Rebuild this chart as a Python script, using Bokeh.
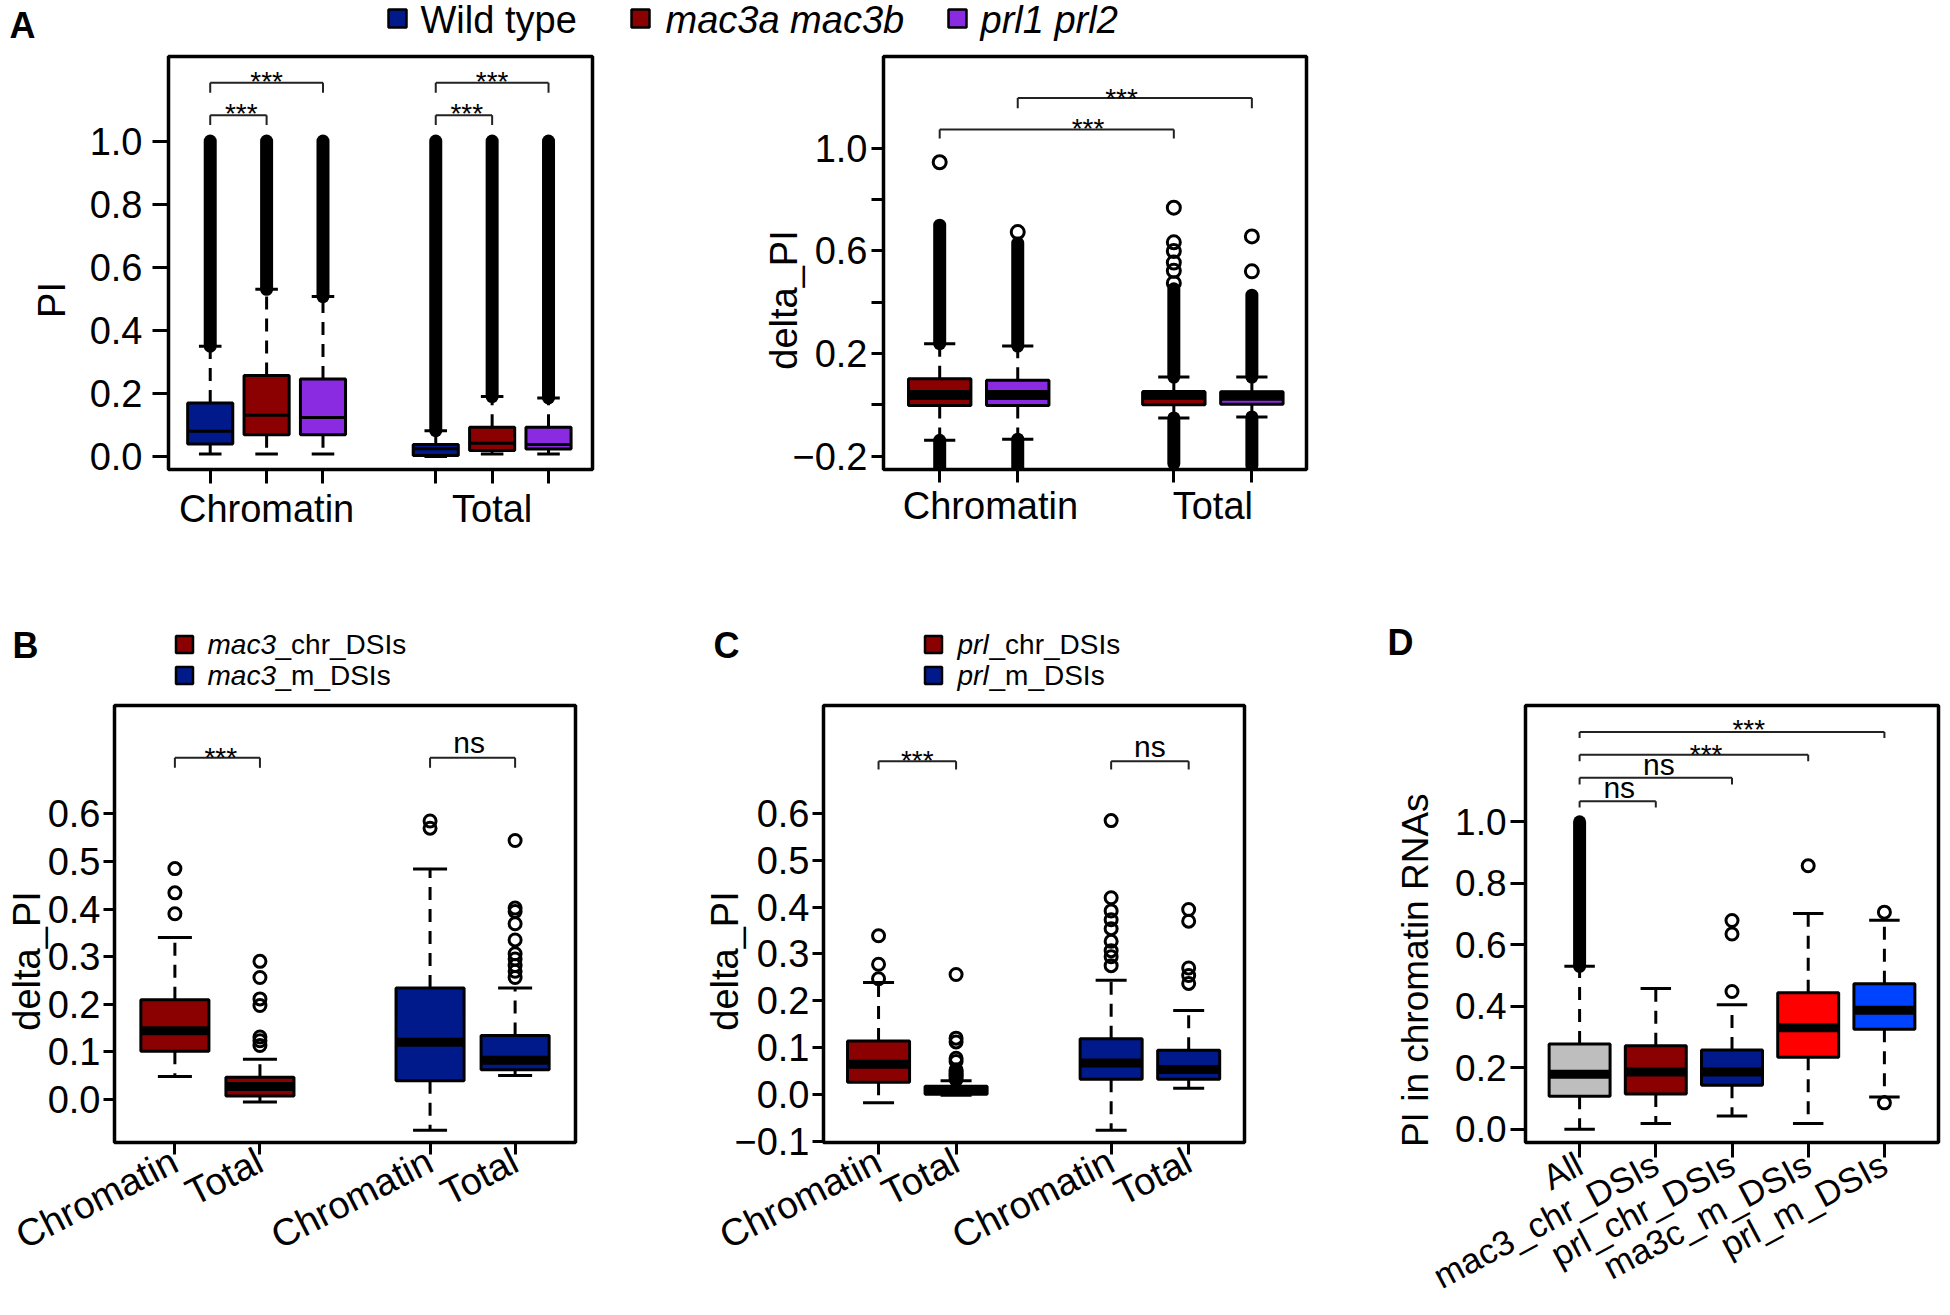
import math
from bokeh.plotting import figure
from bokeh.models import LinearAxis, FixedTicker, Range1d
from bokeh.layouts import column, row
from bokeh.core.properties import value
from bokeh.embed import file_html
from bokeh.resources import INLINE

FONT = "Liberation Sans"
NAVY = "#001A8C"
DARKRED = "#8B0000"
VIOLET = "#8A2BE2"
GREY = "#BEBEBE"
RED = "#FF0000"
BLUE = "#0043FF"
NB = "\u00a0"

# ---------------- Panel A (left): PI ----------------
a1_pos = [1, 2, 3, 5, 6, 7]
a1_colors = [NAVY, DARKRED, VIOLET, NAVY, DARKRED, VIOLET]
a1_q1 = [0.040, 0.069, 0.069, 0.003, 0.019, 0.024]
a1_med = [0.080, 0.131, 0.124, 0.025, 0.042, 0.038]
a1_q3 = [0.170, 0.257, 0.246, 0.038, 0.093, 0.093]
a1_wlo = [0.008, 0.008, 0.008, 0.000, 0.008, 0.008]
a1_whi = [0.350, 0.530, 0.507, 0.082, 0.190, 0.186]
a1_dense_x = [1, 2, 3, 5, 6, 7]
a1_dense_lo = [0.350, 0.530, 0.507, 0.082, 0.190, 0.186]
a1_dense_hi = [1.0, 1.0, 1.0, 1.0, 1.0, 1.0]
a1_xlabels = ["", "Chromatin", "", "", "Total", ""]
a1_yticks = [0.0, 0.2, 0.4, 0.6, 0.8, 1.0]
a1_ylabels = ["0.0", "0.2", "0.4", "0.6", "0.8", "1.0"]
a1_br_x0 = [1, 1, 5, 5]
a1_br_x1 = [3, 2, 7, 6]
a1_br_y = [1.185, 1.082, 1.185, 1.082]
a1_br_drop = [0.032, 0.031, 0.032, 0.031]
a1_br_text = ["***", "***", "***", "***"]
a1_br_tx = [2.0, 1.55, 6.0, 5.55]
a1_br_ty = [1.208, 1.106, 1.208, 1.106]

# ---------------- Panel A (right): delta_PI ----------------
a2_pos = [1, 2, 4, 5]
a2_colors = [DARKRED, VIOLET, DARKRED, VIOLET]
a2_q1 = [-0.003, -0.003, 0.000, 0.002]
a2_med = [0.038, 0.038, 0.038, 0.035]
a2_q3 = [0.102, 0.096, 0.051, 0.051]
a2_wlo = [-0.138, -0.134, -0.051, -0.047]
a2_whi = [0.238, 0.229, 0.108, 0.108]
a2_dense_x = [1, 2, 4, 5, 1, 2, 4, 5]
a2_dense_lo = [0.238, 0.229, 0.108, 0.108, -0.300, -0.300, -0.229, -0.236]
a2_dense_hi = [0.700, 0.630, 0.452, 0.427, -0.138, -0.134, -0.051, -0.047]
a2_out_x = [1, 2, 4, 4, 4, 4, 4, 4, 5, 5]
a2_out_y = [0.945, 0.673, 0.474, 0.522, 0.554, 0.599, 0.633, 0.768, 0.520, 0.656]
a2_xlab_pos = [1.65, 4.5]
a2_xlabels = ["Chromatin", "Total"]
a2_yticks = [-0.2, 0.0, 0.2, 0.4, 0.6, 0.8, 1.0]
a2_ylabels = ["\u22120.2", "", "0.2", "", "0.6", "", "1.0"]
a2_br_x0 = [1, 2]
a2_br_x1 = [4, 5]
a2_br_y = [1.073, 1.195]
a2_br_drop = [0.035, 0.040]
a2_br_text = ["***", "***"]
a2_br_tx = [2.9, 3.33]
a2_br_ty = [1.099, 1.217]

# ---------------- Panel B ----------------
b_pos = [1, 2, 4, 5]
b_colors = [DARKRED, DARKRED, NAVY, NAVY]
b_q1 = [0.101, 0.007, 0.039, 0.062]
b_med = [0.144, 0.027, 0.120, 0.082]
b_q3 = [0.209, 0.046, 0.234, 0.134]
b_wlo = [0.048, -0.006, -0.065, 0.050]
b_whi = [0.340, 0.084, 0.484, 0.234]
b_out_x = [1, 1, 1, 2, 2, 2, 2, 2, 2, 2, 4, 4, 5, 5, 5, 5, 5, 5, 5, 5, 5, 5]
b_out_y = [0.390, 0.434, 0.485,
           0.113, 0.123, 0.131, 0.197, 0.211, 0.256, 0.290,
           0.570, 0.585,
           0.256, 0.269, 0.281, 0.295, 0.306, 0.335, 0.369, 0.395, 0.402, 0.544]
b_xlabels = ["Chromatin", "Total", "Chromatin", "Total"]
b_yticks = [0.0, 0.1, 0.2, 0.3, 0.4, 0.5, 0.6]
b_ylabels = ["0.0", "0.1", "0.2", "0.3", "0.4", "0.5", "0.6"]
b_br_x0 = [1, 4]
b_br_x1 = [2, 5]
b_br_y = [0.718, 0.718]
b_br_drop = [0.021, 0.021]
b_br_text = ["***", "ns"]
b_br_tx = [1.54, 4.46]
b_br_ty = [0.732, 0.743]

# ---------------- Panel C ----------------
c_pos = [1, 2, 4, 5]
c_colors = [DARKRED, DARKRED, NAVY, NAVY]
c_q1 = [0.026, 0.000, 0.032, 0.032]
c_med = [0.064, 0.0085, 0.067, 0.053]
c_q3 = [0.114, 0.017, 0.119, 0.094]
c_wlo = [-0.018, -0.002, -0.077, 0.013]
c_whi = [0.239, 0.029, 0.244, 0.179]
c_out_x = [1, 1, 1, 2, 2, 2, 2, 2, 2, 2, 2, 2, 2, 2,
           4, 4, 4, 4, 4, 4, 4, 4, 4, 5, 5, 5, 5, 5]
c_out_y = [0.247, 0.278, 0.339,
           0.032, 0.036, 0.040, 0.044, 0.048, 0.052, 0.070, 0.077, 0.112, 0.120, 0.256,
           0.275, 0.294, 0.307, 0.327, 0.354, 0.373, 0.392, 0.420, 0.585,
           0.237, 0.254, 0.270, 0.370, 0.395]
c_xlabels = ["Chromatin", "Total", "Chromatin", "Total"]
c_yticks = [-0.1, 0.0, 0.1, 0.2, 0.3, 0.4, 0.5, 0.6]
c_ylabels = ["\u22120.1", "0.0", "0.1", "0.2", "0.3", "0.4", "0.5", "0.6"]
c_br_x0 = [1, 4]
c_br_x1 = [2, 5]
c_br_y = [0.712, 0.712]
c_br_drop = [0.018, 0.018]
c_br_text = ["***", "ns"]
c_br_tx = [1.5, 4.5]
c_br_ty = [0.727, 0.736]

# ---------------- Panel D ----------------
d_pos = [1, 2, 3, 4, 5]
d_colors = [GREY, DARKRED, NAVY, RED, BLUE]
d_q1 = [0.107, 0.115, 0.143, 0.234, 0.325]
d_med = [0.179, 0.186, 0.186, 0.330, 0.387]
d_q3 = [0.277, 0.272, 0.258, 0.444, 0.473]
d_wlo = [0.000, 0.019, 0.043, 0.019, 0.105]
d_whi = [0.530, 0.458, 0.405, 0.702, 0.680]
d_dense_x = [1]
d_dense_lo = [0.530]
d_dense_hi = [1.0]
d_out_x = [3, 3, 3, 4, 5, 5]
d_out_y = [0.448, 0.635, 0.679, 0.857, 0.086, 0.706]
d_xlabels = ["All", "mac3_chr_DSIs", "prl_chr_DSIs", "ma3c_m_DSIs", "prl_m_DSIs"]
d_yticks = [0.0, 0.2, 0.4, 0.6, 0.8, 1.0]
d_ylabels = ["0.0", "0.2", "0.4", "0.6", "0.8", "1.0"]
d_br_x0 = [1, 1, 1, 1]
d_br_x1 = [2, 3, 4, 5]
d_br_y = [1.067, 1.143, 1.218, 1.292]
d_br_drop = [0.021, 0.022, 0.021, 0.020]
d_br_text = ["ns", "ns", "***", "***"]
d_br_tx = [1.52, 2.04, 2.66, 3.22]
d_br_ty = [1.100, 1.175, 1.239, 1.318]

# ---------------- Legends ----------------
legA_labels = ["Wild type", "mac3a mac3b", "prl1 prl2"]
legA_styles = ["normal", "italic", "italic"]
legA_colors = [NAVY, DARKRED, VIOLET]
legB_ital = ["mac3", "mac3"]
legB_rest = ["_chr_DSIs", "_m_DSIs"]
legC_ital = ["prl", "prl"]
legC_rest = ["_chr_DSIs", "_m_DSIs"]
legBC_colors = [DARKRED, NAVY]


def panel(width, height, bl, br, bt, bb, xr, yr):
    p = figure(width=width, height=height, x_range=Range1d(*xr), y_range=Range1d(*yr),
               x_axis_type=None, y_axis_type=None, toolbar_location=None,
               output_backend="svg", min_border_left=bl, min_border_right=br,
               min_border_top=bt, min_border_bottom=bb)
    p.outline_line_color = "black"
    p.outline_line_width = 3.5
    p.background_fill_color = "white"
    p.border_fill_color = "white"
    return p


def yaxis(p, ticks, labels, title, tick_out, lab_st, title_st, fs="38px"):
    ax = LinearAxis(ticker=FixedTicker(ticks=ticks, minor_ticks=[]),
                    major_label_overrides={t: l for t, l in zip(ticks, labels)},
                    axis_label=title, axis_line_color=None,
                    major_tick_out=tick_out, major_tick_in=0, major_tick_line_width=3,
                    minor_tick_out=0, minor_tick_in=0,
                    major_label_standoff=lab_st, axis_label_standoff=title_st,
                    major_label_text_font=FONT, major_label_text_font_size=fs,
                    major_label_text_color="black",
                    axis_label_text_font=FONT, axis_label_text_font_size=fs,
                    axis_label_text_font_style="normal", axis_label_text_color="black")
    p.add_layout(ax, "left")


def xaxis(p, ticks, labels, tick_out, lab_st, fs="38px", angle="horizontal", tick_w=3):
    ax = LinearAxis(ticker=FixedTicker(ticks=ticks, minor_ticks=[]),
                    major_label_overrides={t: l for t, l in zip(ticks, labels)},
                    axis_line_color=None,
                    major_tick_out=tick_out, major_tick_in=0, major_tick_line_width=tick_w,
                    minor_tick_out=0, minor_tick_in=0,
                    major_label_standoff=lab_st,
                    major_label_text_font=FONT, major_label_text_font_size=fs,
                    major_label_text_color="black",
                    major_label_orientation=angle)
    p.add_layout(ax, "below")
    return ax


def boxes(p, pos, q1, med, q3, wlo, whi, colors, med_lw):
    cap = 0.2
    half = 0.4
    p.segment(x0=pos, y0=q3, x1=pos, y1=whi, line_color="black", line_width=3, line_dash="13 9")
    p.segment(x0=pos, y0=q1, x1=pos, y1=wlo, line_color="black", line_width=3, line_dash="13 9")
    p.segment(x0=[x - cap for x in pos], y0=whi, x1=[x + cap for x in pos], y1=whi,
              line_color="black", line_width=3)
    p.segment(x0=[x - cap for x in pos], y0=wlo, x1=[x + cap for x in pos], y1=wlo,
              line_color="black", line_width=3)
    p.vbar(x=pos, width=0.8, bottom=q1, top=q3, fill_color=colors, line_color="black",
           line_width=3)
    p.segment(x0=[x - half for x in pos], y0=med, x1=[x + half for x in pos], y1=med,
              line_color="black", line_width=med_lw, line_cap="butt")


def dense(p, xs, lo, hi, w=13):
    p.segment(x0=xs, y0=lo, x1=xs, y1=hi, line_color="black", line_width=w, line_cap="round")


def outliers(p, xs, ys, size=12):
    p.scatter(x=xs, y=ys, marker="circle", size=size, fill_color=None,
              line_color="black", line_width=3)


def brackets(p, x0, x1, y, drop, texts, tx, ty):
    p.segment(x0=x0, y0=y, x1=x1, y1=y, line_color="#222222", line_width=2)
    low = [a - b for a, b in zip(y, drop)]
    p.segment(x0=x0, y0=y, x1=x0, y1=low, line_color="#222222", line_width=2)
    p.segment(x0=x1, y0=y, x1=x1, y1=low, line_color="#222222", line_width=2)
    for t, xx, yy in zip(texts, tx, ty):
        if t == "***":
            p.text(x=[xx], y=[yy], text=[t], text_align="center", text_baseline="middle",
                   text_font=value(FONT), text_font_size="28px", y_offset=6,
                   text_color="black")
        else:
            p.text(x=[xx], y=[yy], text=[t], text_align="center", text_baseline="middle",
                   text_font=value(FONT), text_font_size="30px", y_offset=-3,
                   text_color="black")


def strip(width, height):
    s = figure(width=width, height=height, x_range=Range1d(0, width), y_range=Range1d(height, 0),
               x_axis_type=None, y_axis_type=None, toolbar_location=None,
               output_backend="svg", min_border=0)
    s.outline_line_color = None
    s.background_fill_color = "white"
    s.border_fill_color = "white"
    return s


TOTAL_W = 1942

# ---- Row 1: panel letter A + legend (page y 0-48) ----
s1 = strip(TOTAL_W, 48)
s1.text(x=[9], y=[25], text=["A"], text_font=value(FONT), text_font_style="bold",
        text_font_size="36px", text_baseline="middle", text_color="black")
s1.scatter(x=[397, 640, 957], y=[18, 18, 18], marker="square", size=18,
           fill_color=legA_colors, line_color="black", line_width=2.5)
for lab, sty, xx in zip(legA_labels, legA_styles, [420, 665, 980]):
    s1.text(x=[xx], y=[19], text=[lab], text_font=value(FONT), text_font_style=sty,
            text_font_size="38px", text_baseline="middle", text_color="black")

# ---- Row 2: panel A plots (page y 48-600) ----
pA1 = panel(708, 552, 168, 116, 8, 131, (0.26, 7.78), (-0.041, 1.268))
dense(pA1, a1_dense_x, a1_dense_lo, a1_dense_hi)
boxes(pA1, a1_pos, a1_q1, a1_med, a1_q3, a1_wlo, a1_whi, a1_colors, 3)
brackets(pA1, a1_br_x0, a1_br_x1, a1_br_y, a1_br_drop, a1_br_text, a1_br_tx, a1_br_ty)
yaxis(pA1, a1_yticks, a1_ylabels, "PI" + NB * 7, 16, 10, 14)
xaxis(pA1, a1_pos, a1_xlabels, 14, 4)

wA2 = TOTAL_W - 708
pA2 = panel(wA2, 552, 175, wA2 - 175 - 423, 2, 127, (0.28, 5.70), (-0.252, 1.357))
dense(pA2, a2_dense_x, a2_dense_lo, a2_dense_hi)
boxes(pA2, a2_pos, a2_q1, a2_med, a2_q3, a2_wlo, a2_whi, a2_colors, 10)
outliers(pA2, a2_out_x, a2_out_y, 13)
brackets(pA2, a2_br_x0, a2_br_x1, a2_br_y, a2_br_drop, a2_br_text, a2_br_tx, a2_br_ty)
yaxis(pA2, a2_yticks, a2_ylabels, "delta_PI" + NB * 7, 12, 4, -16)
xaxis(pA2, a2_pos, ["", "", "", ""], 13, 0, fs="0px")
xaxis(pA2, a2_xlab_pos, a2_xlabels, 0, 2, tick_w=0)

# ---- Row 3: letters B C D + legends (page y 600-695) ----
s3 = strip(TOTAL_W, 95)
s3.text(x=[12, 713, 1387], y=[45, 45, 42], text=["B", "C", "D"], text_font=value(FONT),
        text_font_style="bold", text_font_size="36px", text_baseline="middle",
        text_color="black")
s3.scatter(x=[184, 184], y=[44, 75], marker="square", size=17, fill_color=legBC_colors,
           line_color="black", line_width=2.5)
s3.text(x=[207, 207], y=[44, 75], text=legB_ital, text_font=value(FONT),
        text_font_style="italic", text_font_size="28px", text_baseline="middle",
        text_color="black")
s3.text(x=[275, 275], y=[44, 75], text=legB_rest, text_font=value(FONT),
        text_font_size="28px", text_baseline="middle", text_color="black")
s3.scatter(x=[933, 933], y=[44, 75], marker="square", size=17, fill_color=legBC_colors,
           line_color="black", line_width=2.5)
s3.text(x=[957, 957], y=[44, 75], text=legC_ital, text_font=value(FONT),
        text_font_style="italic", text_font_size="28px", text_baseline="middle",
        text_color="black")
s3.text(x=[989, 989], y=[44, 75], text=legC_rest, text_font=value(FONT),
        text_font_size="28px", text_baseline="middle", text_color="black")

# ---- Row 4: panels B, C, D (page y 695-1315) ----
ANG = math.radians(27)
pB = panel(700, 620, 114, 125, 9, 168, (0.29, 5.71), (-0.091, 0.828))
boxes(pB, b_pos, b_q1, b_med, b_q3, b_wlo, b_whi, b_colors, 9)
outliers(pB, b_out_x, b_out_y)
brackets(pB, b_br_x0, b_br_x1, b_br_y, b_br_drop, b_br_text, b_br_tx, b_br_ty)
yaxis(pB, b_yticks, b_ylabels, "delta_PI" + NB * 7, 11, 3, -3)
xaxis(pB, b_pos, b_xlabels, 12, 4, fs="38px", angle=ANG)

pC = panel(660, 620, 123, 116, 10, 168, (0.29, 5.72), (-0.103, 0.831))
dense(pC, [2], [0.030], [0.050], 11)
boxes(pC, c_pos, c_q1, c_med, c_q3, c_wlo, c_whi, c_colors, 9)
outliers(pC, c_out_x, c_out_y)
brackets(pC, c_br_x0, c_br_x1, c_br_y, c_br_drop, c_br_text, c_br_tx, c_br_ty)
yaxis(pC, c_yticks, c_ylabels, "delta_PI" + NB * 7, 11, 3, -15)
xaxis(pC, c_pos, c_xlabels, 12, 4, fs="38px", angle=ANG)

pD = panel(582, 620, 165, 4, 8, 173, (0.29, 5.71), (-0.043, 1.378))
dense(pD, d_dense_x, d_dense_lo, d_dense_hi)
boxes(pD, d_pos, d_q1, d_med, d_q3, d_wlo, d_whi, d_colors, 9)
outliers(pD, d_out_x, d_out_y)
brackets(pD, d_br_x0, d_br_x1, d_br_y, d_br_drop, d_br_text, d_br_tx, d_br_ty)
yaxis(pD, d_yticks, d_ylabels, "PI in chromatin RNAs" + NB * 9, 15, 4, 16, fs="37px")
xaxis(pD, d_pos, d_xlabels, 15, 4, fs="35px", angle=math.radians(28))

layout = column(s1, row(pA1, pA2), s3, row(pB, pC, pD))

with open("out.html", "w") as f:
    f.write(file_html(layout, INLINE))
